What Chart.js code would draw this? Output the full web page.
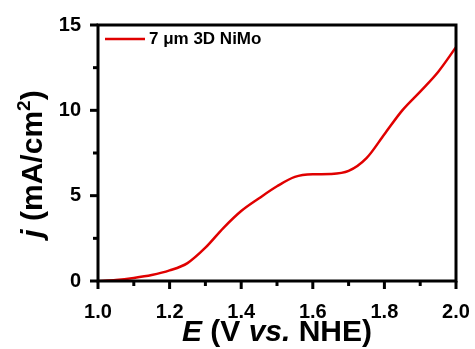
<!DOCTYPE html>
<html>
<head>
<meta charset="utf-8">
<script src="https://cdn.jsdelivr.net/npm/chart.js@4/dist/chart.umd.min.js"></script>
<style>
  html, body { margin: 0; padding: 0; background: #fff; }
  #wrap { width: 475px; height: 349px; }
</style>
</head>
<body>
<div id="wrap"><canvas id="c" width="475" height="349"></canvas></div>
<script>
// Polarization curve: potential E (V vs. NHE) against current density j (mA/cm²)
const potential = [1.00, 1.05, 1.10, 1.15, 1.20, 1.25, 1.30, 1.35, 1.40, 1.45, 1.50,
                   1.55, 1.60, 1.65, 1.70, 1.75, 1.80, 1.85, 1.90, 1.95, 2.00];
const currentDensity = [0.00, 0.06, 0.18, 0.35, 0.62, 1.05, 1.95, 3.10, 4.10, 4.85, 5.55,
                        6.10, 6.25, 6.27, 6.45, 7.20, 8.60, 10.00, 11.10, 12.25, 13.70];
const seriesLabel = '7 \u03bcm 3D NiMo';
const xTicks = [1.0, 1.2, 1.4, 1.6, 1.8, 2.0];
const xMinorTicks = [1.1, 1.3, 1.5, 1.7, 1.9];
const yTicks = [0, 5, 10, 15];
const yMinorTicks = [2.5, 7.5, 12.5];

const FONT = '"Liberation Sans", Arial, sans-serif';
const LINE_RED = '#e00000';

// draws frame, outward tick marks, axis titles and the legend entry
const decorations = {
  id: 'decorations',
  afterDraw(chart) {
    const ctx = chart.ctx;
    const a = chart.chartArea;
    const xs = chart.scales.x, ys = chart.scales.y;
    ctx.save();
    ctx.strokeStyle = '#000';
    ctx.lineCap = 'butt';

    // frame
    ctx.lineWidth = 3;
    ctx.strokeRect(a.left, a.top, a.right - a.left, a.bottom - a.top);

    // tick marks
    const tick = (x1, y1, x2, y2, w) => {
      ctx.lineWidth = w;
      ctx.beginPath(); ctx.moveTo(x1, y1); ctx.lineTo(x2, y2); ctx.stroke();
    };
    xTicks.forEach(v => { const p = xs.getPixelForValue(v); tick(p, a.bottom, p, a.bottom + 8, 3); });
    xMinorTicks.forEach(v => { const p = xs.getPixelForValue(v); tick(p, a.bottom, p, a.bottom + 5, 3); });
    yTicks.forEach(v => { const p = ys.getPixelForValue(v); tick(a.left, p, a.left - 8, p, 3); });
    yMinorTicks.forEach(v => { const p = ys.getPixelForValue(v); tick(a.left, p, a.left - 5, p, 3); });

    ctx.fillStyle = '#000';
    ctx.textBaseline = 'alphabetic';
    const drawRuns = (runs, cx, cy) => {
      let total = 0;
      runs.forEach(r => { ctx.font = r.font; r.w = ctx.measureText(r.text).width; total += r.w; });
      let x = cx - total / 2;
      runs.forEach(r => {
        ctx.font = r.font;
        ctx.fillText(r.text, x, cy + (r.dy || 0));
        x += r.w;
      });
    };

    // x title
    const B = 'bold 30px ' + FONT, BI = 'italic bold 30px ' + FONT;
    drawRuns([
      { text: 'E', font: BI },
      { text: ' (V ', font: B },
      { text: 'vs.', font: BI },
      { text: ' NHE)', font: B }
    ], (a.left + a.right) / 2, 341);

    // y title
    ctx.save();
    ctx.translate(42, 164);
    ctx.rotate(-Math.PI / 2);
    drawRuns([
      { text: 'j', font: BI },
      { text: ' (mA/cm', font: B },
      { text: '2', font: 'bold 19px ' + FONT, dy: -12 },
      { text: ')', font: B }
    ], 0, 0);
    ctx.restore();

    // legend entry
    const ds = chart.data.datasets[0];
    ctx.strokeStyle = ds.borderColor;
    ctx.lineWidth = 2.5;
    ctx.beginPath(); ctx.moveTo(105, 39); ctx.lineTo(145, 39); ctx.stroke();
    ctx.font = 'bold 17px ' + FONT;
    ctx.textBaseline = 'middle';
    ctx.fillStyle = '#000';
    ctx.fillText(ds.label, 149, 39);
    ctx.restore();
  }
};

new Chart(document.getElementById('c'), {
  type: 'line',
  data: {
    datasets: [{
      label: seriesLabel,
      data: potential.map((e, i) => ({ x: e, y: currentDensity[i] })),
      borderColor: LINE_RED,
      borderWidth: 2.5,
      pointRadius: 0,
      fill: false,
      cubicInterpolationMode: 'monotone'
    }]
  },
  options: {
    responsive: false,
    animation: false,
    layout: { padding: { left: 0, right: 19, top: 25, bottom: 0 } },
    plugins: { legend: { display: false }, tooltip: { enabled: false } },
    scales: {
      x: {
        type: 'linear',
        min: 1.0, max: 2.0,
        afterFit(s) { s.height = 68; s.paddingLeft = 0; s.paddingRight = 0; },
        grid: { display: false, drawTicks: false },
        border: { display: false },
        ticks: {
          stepSize: 0.2,
          padding: 19,
          color: '#000',
          font: { family: FONT, size: 20, weight: 'bold' },
          callback: v => Number(v).toFixed(1)
        }
      },
      y: {
        type: 'linear',
        min: 0, max: 15,
        afterFit(s) { s.width = 98; s.paddingTop = 0; s.paddingBottom = 0; },
        grid: { display: false, drawTicks: false },
        border: { display: false },
        ticks: {
          stepSize: 5,
          padding: 17,
          color: '#000',
          font: { family: FONT, size: 20, weight: 'bold' }
        }
      }
    }
  },
  plugins: [decorations]
});
</script>
</body>
</html>
